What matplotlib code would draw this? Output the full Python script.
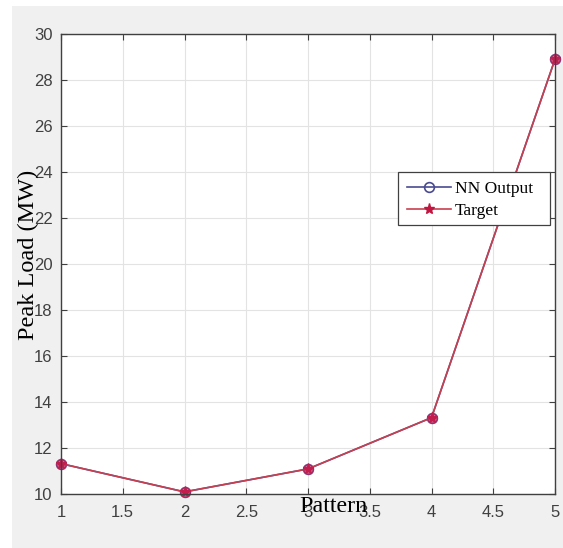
import matplotlib
matplotlib.use("Agg")
import matplotlib.pyplot as plt
from matplotlib.patches import Rectangle

pattern = [1, 2, 3, 4, 5]
nn_output = [11.3, 10.07, 11.07, 13.3, 28.9]
target = [11.3, 10.07, 11.07, 13.3, 28.9]
xticks = [1, 1.5, 2, 2.5, 3, 3.5, 4, 4.5, 5]
xticklabels = ["1", "1.5", "2", "2.5", "3", "3.5", "4", "4.5", "5"]
yticks = [10, 12, 14, 16, 18, 20, 22, 24, 26, 28, 30]

W, H = 563, 548
fig = plt.figure(figsize=(W / 100, H / 100), dpi=100)
fig.patch.set_facecolor("white")
bg = fig.add_axes([12 / W, 0, 1 - 12 / W, 1 - 6 / H], zorder=-5)
bg.set_facecolor("#f0f0f0")
bg.set_xticks([]); bg.set_yticks([])
for s in bg.spines.values():
    s.set_visible(False)

left, right, top, bottom = 61, 555, 34, 493.5
ax = fig.add_axes([left / W, 1 - bottom / H, (right - left) / W, (bottom - top) / H], zorder=1)
ax.set_facecolor("white")

ax.plot(pattern, nn_output, color="#4a4a90", marker="o", markersize=7,
        markerfacecolor="none", markeredgewidth=1.2, linewidth=1.2, label="NN Output")
ax.plot(pattern, target, color="#c8404f", marker="*", markersize=8,
        markeredgecolor="#c0163f", markerfacecolor="#c0163f", linewidth=1.2, label="Target")
ax.plot(pattern, target, linestyle="none", marker="o", markersize=7,
        color="#c4245a", alpha=0.55)
for ln in ax.lines:
    ln.set_clip_on(False)

ax.set_xlim(1, 5)
ax.set_ylim(10, 30)
ax.set_xticks(xticks)
ax.set_xticklabels(xticklabels)
ax.set_yticks(yticks)
ax.grid(True, color="#e3e3e3", linewidth=0.8)
ax.set_axisbelow(True)
ax.tick_params(direction="in", top=True, right=True, length=4, color="#404040",
               labelsize=12, labelcolor="#404040")
ax.tick_params(axis="x", pad=8.5)
ax.tick_params(axis="y", pad=6)
for lab in ax.get_xticklabels() + ax.get_yticklabels():
    lab.set_family("Liberation Sans")
for s in ax.spines.values():
    s.set_color("#404040")
    s.set_linewidth(1.0)

fig.text(28 / W, 1 - 255 / H, "Peak Load (MW)", rotation=90, ha="center", va="center",
         family="Liberation Serif", fontsize=17.5, zorder=5)
fig.text(333 / W, 1 - 506 / H, "Pattern", ha="center", va="center",
         family="Liberation Serif", fontsize=17.3, zorder=5)

# legend with MATLAB-like frame
bx0, bx1, by0, by1 = 398, 550, 172, 225
frame = Rectangle((bx0 / W, 1 - by1 / H), (bx1 - bx0) / W, (by1 - by0) / H,
                  transform=fig.transFigure, facecolor="white", edgecolor="#404040",
                  linewidth=0.9, zorder=9, clip_on=False)
ax.add_artist(frame)
leg = ax.legend(loc="upper left", bbox_to_anchor=((bx0 - left) / (right - left),
                1 - (by0 - top) / (bottom - top)),
                prop={"family": "Liberation Serif", "size": 12.6},
                frameon=False, borderaxespad=0, handlelength=2.5, borderpad=0.5,
                labelspacing=0.35, handletextpad=0.25)
leg.set_zorder(10)

fig.savefig("out.png", dpi=100)
